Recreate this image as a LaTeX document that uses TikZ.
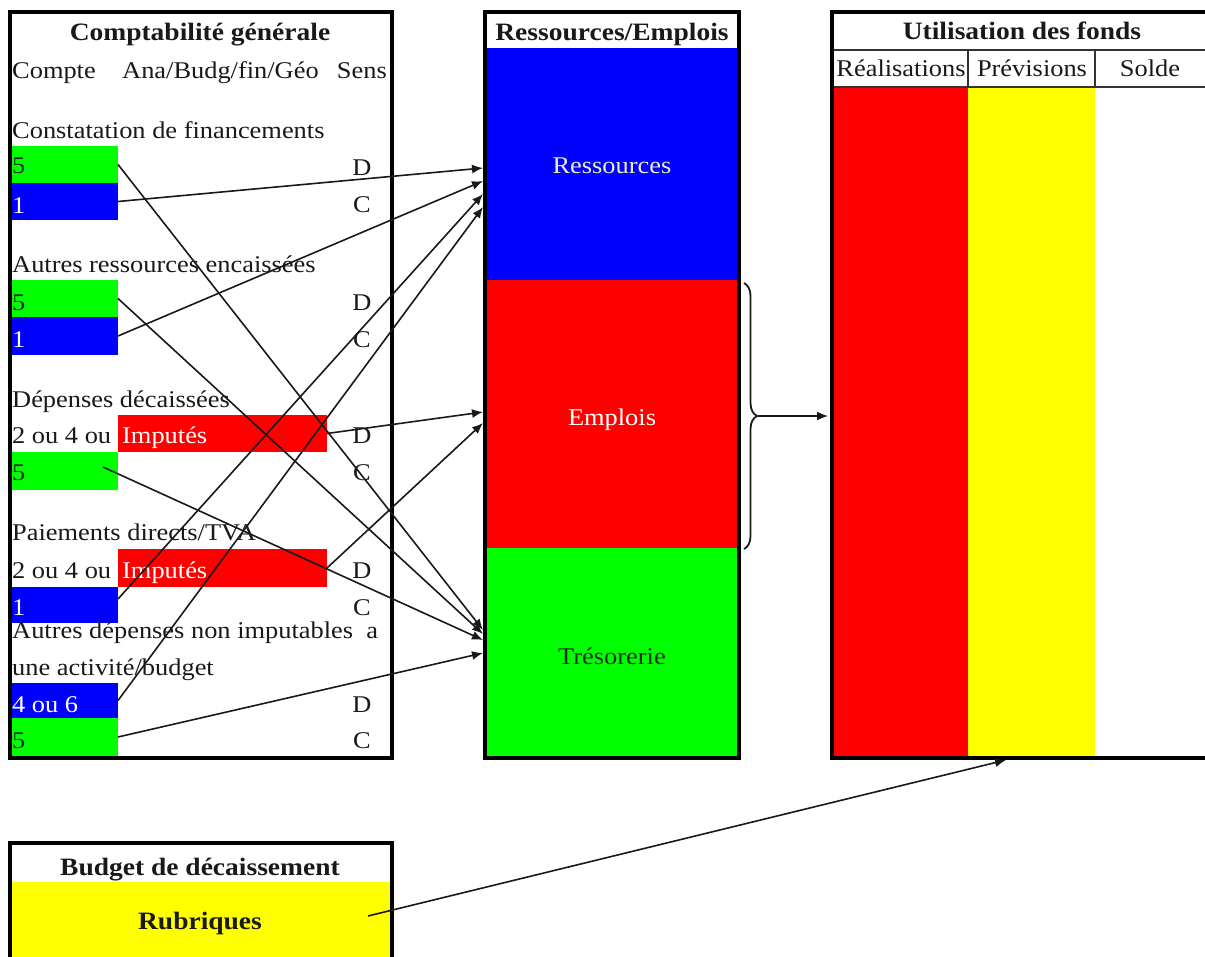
\documentclass[tikz,border=0pt]{standalone}
\usepackage{fontspec}
\setmainfont[FakeStretch=1.1]{Liberation Serif}
\usetikzlibrary{arrows.meta,decorations.pathreplacing}

\definecolor{cgreen}{RGB}{0,255,0}
\definecolor{cblue}{RGB}{0,0,255}
\definecolor{cred}{RGB}{255,0,0}
\definecolor{cyellow}{RGB}{255,255,0}
\definecolor{paleyellow}{RGB}{238,238,196}
\definecolor{darkink}{RGB}{25,45,25}

\tikzset{
  panelframe/.style={draw=black, line width=4pt},
  cellbox/.style={anchor=north west, inner sep=0pt, outer sep=0pt, minimum height=37pt},
  txt/.style={inner sep=0pt, text=black!90, font=\fontsize{24}{28}\selectfont},
  btxt/.style={inner sep=0pt, text=black!90, font=\fontsize{25}{29}\selectfont\bfseries},
  lab/.style={txt, anchor=base west},
  sens/.style={txt, anchor=base},
  link/.style={line width=1.6pt, draw=black!90, -{Latex[length=11pt,width=9pt]}},
  thinrule/.style={line width=1.5pt, draw=black!80},
}

\begin{document}
\begin{tikzpicture}[x=1pt,y=-1pt]
\useasboundingbox (0,0) rectangle (1205,956);
\clip (0,0) rectangle (1205,956);

% ---------- Comptabilité générale ----------
\node[cellbox, fill=cgreen, minimum width=108pt] (g1) at (10,146) {};
\node[cellbox, fill=cblue,  minimum width=108pt] (b1) at (10,183) {};
\node[cellbox, fill=cgreen, minimum width=108pt] (g2) at (10,280) {};
\node[cellbox, fill=cblue,  minimum width=108pt, minimum height=38pt] (b2) at (10,317) {};
\node[cellbox, fill=cred,   minimum width=209pt] (r1) at (118,415) {};
\node[cellbox, fill=cgreen, minimum width=108pt, minimum height=38pt] (g3) at (10,452) {};
\node[cellbox, fill=cred,   minimum width=209pt, minimum height=38pt] (r2) at (118,549) {};
\node[cellbox, fill=cblue,  minimum width=108pt, minimum height=36pt] (b3) at (10,587) {};
\node[cellbox, fill=cblue,  minimum width=108pt, minimum height=35pt] (b4) at (10,683) {};
\node[cellbox, fill=cgreen, minimum width=108pt, minimum height=38pt] (g4) at (10,718) {};

\draw[panelframe] (10,12) rectangle (392,758);

\node[btxt, anchor=base] (cgtitle) at (200,40) {Comptabilité générale};
\node[lab] (hcompte) at (12,78) {Compte};
\node[lab] (hana) at (122,78) {Ana/Budg/fin/Géo};
\node[txt, anchor=base east] (hsens) at (387,78) {Sens};

\node[lab] (s1) at (12,138) {Constatation de financements};
\node[lab, text=darkink] (t1) at (12,173) {5};
\node[lab, text=white] (t2) at (12,213) {1};
\node[sens] (d1) at (362,175) {D};
\node[sens] (c1) at (362,212) {C};

\node[lab] (s2) at (12,272) {Autres ressources encaissées};
\node[lab, text=darkink] (t3) at (12,310) {5};
\node[lab, text=white] (t4) at (12,347) {1};
\node[sens] (d2) at (362,310) {D};
\node[sens] (c2) at (362,347) {C};

\node[lab] (s3) at (12,407) {Dépenses décaissées};
\node[lab] (o1) at (12,443) {2 ou 4 ou};
\node[lab, text=white] (i1) at (122,443) {Imputés};
\node[lab, text=darkink] (t5) at (12,480) {5};
\node[sens] (d3) at (362,443) {D};
\node[sens] (c3) at (362,480) {C};

\node[lab] (s4) at (12,540) {Paiements directs/TVA};
\node[lab] (o2) at (12,578) {2 ou 4 ou};
\node[lab, text=white] (i2) at (122,578) {Imputés};
\node[lab, text=white] (t6) at (12,615) {1};
\node[sens] (d4) at (362,578) {D};
\node[sens] (c4) at (362,615) {C};

\node[lab] (s5) at (12,638) {Autres dépenses non imputables\ \ a};
\node[lab] (s6) at (12,675) {une activité/budget};
\node[lab, text=white] (t7) at (12,712) {4 ou 6};
\node[lab, text=darkink] (t8) at (12,748) {5};
\node[sens] (d5) at (362,712) {D};
\node[sens] (c5) at (362,748) {C};

% ---------- Ressources/Emplois ----------
\node[cellbox, fill=cblue,  minimum width=250pt, minimum height=232pt] (res) at (487,48) {};
\node[cellbox, fill=cred,   minimum width=250pt, minimum height=268pt] (emp) at (487,280) {};
\node[cellbox, fill=cgreen, minimum width=250pt, minimum height=210pt] (tre) at (487,548) {};
\draw[panelframe] (485,12) rectangle (739,758);
\node[btxt, anchor=base] (retitle) at (612,40) {Ressources/Emplois};
\node[txt, anchor=base, text=paleyellow] (reslab) at (612,173) {Ressources};
\node[txt, anchor=base, text=white] (emplab) at (612,425) {Emplois};
\node[txt, anchor=base, text=darkink] (trelab) at (612,664) {Trésorerie};

% ---------- Utilisation des fonds ----------
\node[cellbox, fill=cred,    minimum width=134pt, minimum height=671pt] (real) at (834,87) {};
\node[cellbox, fill=cyellow, minimum width=127pt, minimum height=671pt] (prev) at (968,87) {};
\draw[thinrule] (832,50) -- (1212,50);
\draw[thinrule] (832,87) -- (1212,87);
\draw[thinrule] (968,50) -- (968,87);
\draw[thinrule] (1095,50) -- (1095,87);
\draw[panelframe] (832,12) rectangle (1222,758);
\node[btxt, anchor=base] (uftitle) at (1022,39) {Utilisation des fonds};
\node[txt, anchor=base] (hreal) at (901,76) {Réalisations};
\node[txt, anchor=base] (hprev) at (1032,76) {Prévisions};
\node[txt, anchor=base] (hsolde) at (1150,76) {Solde};

% ---------- Budget de décaissement ----------
\node[cellbox, fill=cyellow, minimum width=378pt, minimum height=80pt] (rub) at (12,882) {};
\draw[panelframe] (10,843) rectangle (392,975);
\node[btxt, anchor=base] (bdtitle) at (200,875) {Budget de décaissement};
\node[btxt, anchor=base] (rublab) at (200,929) {Rubriques};

% ---------- arrow end points ----------
\coordinate (R1) at (483,168);
\coordinate (R2) at (483,181);
\coordinate (R3) at (483,194);
\coordinate (R4) at (483,207);
\coordinate (E1) at (483,412);
\coordinate (E2) at (483,423);
\coordinate (T1) at (483,630);
\coordinate (T2) at (483,634);
\coordinate (T3) at (483,640);
\coordinate (T4) at (483,653);
\coordinate (braceA) at (744,283);
\coordinate (braceB) at (744,549);
\coordinate (bracetip) at (758,416);
\coordinate (ufin) at (828,416);
\coordinate (rubout) at (368,916);
\coordinate (ufbottom) at (1006,760);

% ---------- connectors ----------
\draw[link] (g1.east) -- (T1);
\draw[link] (b1.east) -- (R1);
\draw[link] (g2.east) -- (T2);
\draw[link] (b2.east) -- (R2);
\draw[link] (r1.east) -- (E1);
\draw[link] ([xshift=-15pt,yshift=4pt]g3.east) -- (T3);
\draw[link] (r2.east) -- (E2);
\draw[link] ([yshift=6pt]b3.east) -- (R3);
\draw[link] (b4.east) -- (R4);
\draw[link] (g4.east) -- (T4);

\draw[line width=1.8pt, draw=black!90, decorate,
      decoration={brace, amplitude=13pt, aspect=0.5}] (braceA) -- (braceB);
\draw[link] (bracetip) -- (ufin);
\draw[link] (rubout) -- (ufbottom);
\end{tikzpicture}
\end{document}
